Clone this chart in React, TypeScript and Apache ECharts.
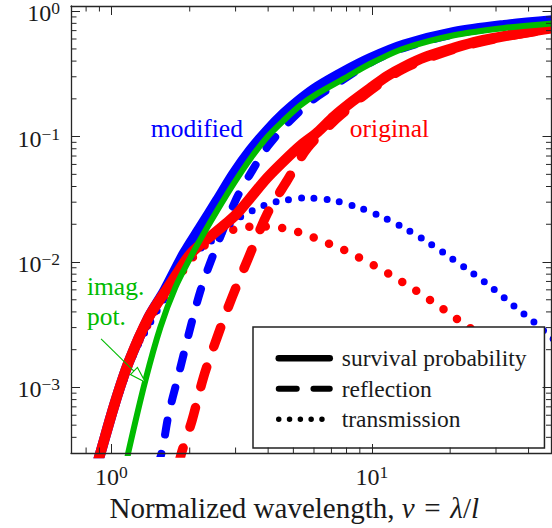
import React, { useEffect, useRef } from 'react';
import * as echarts from 'echarts';

type Pt = [number, number];

// ---- axis ranges ----
const X_MIN = 0.7;
const X_MAX = 49;
const Y_MIN = 3e-4;
const Y_MAX = 1.1;

const MINOR_X_TICKS = [0.8, 0.9, 2, 3, 4, 5, 6, 7, 8, 9, 20, 30, 40];
const MINOR_Y_TICKS = [
  4e-4, 5e-4, 6e-4, 7e-4, 8e-4, 9e-4,
  2e-3, 3e-3, 4e-3, 5e-3, 6e-3, 7e-3, 8e-3, 9e-3,
  2e-2, 3e-2, 4e-2, 5e-2, 6e-2, 7e-2, 8e-2, 9e-2,
  0.2, 0.3, 0.4, 0.5, 0.6, 0.7, 0.8, 0.9,
];

// ---- data: [nu, probability] ----
const ORIGINAL_SURVIVAL: Pt[] = [
  [0.88, 2.4e-4], [0.907, 2.97e-4], [1.03, 7.4e-4], [1.166, 1.59e-3], [1.392, 3.63e-3],
  [1.686, 6.71e-3], [1.897, 9.8e-3], [2.013, 1.16e-2], [2.2, 1.38e-2], [2.47, 1.68e-2],
  [2.75, 2.02e-2], [3.04, 2.43e-2], [3.42, 3.25e-2], [3.97, 4.7e-2], [4.6, 6.4e-2],
  [5.33, 8.5e-2], [6.18, 0.108], [7.16, 0.145], [8.4, 0.19], [9.91, 0.245], [11.5, 0.305],
  [13.27, 0.36], [16, 0.43], [20.7, 0.51], [26, 0.58], [32.3, 0.632], [40, 0.685], [50, 0.735],
];
const ORIGINAL_REFLECTION: Pt[] = [
  [1.8, 2.3e-4], [1.871, 3.13e-4], [2.04, 5.44e-4], [2.26, 1.21e-3], [2.55, 2.52e-3],
  [2.91, 5.25e-3], [3.33, 1.03e-2], [3.97, 2.43e-2], [4.74, 4.48e-2], [5.66, 8.1e-2],
  [7.16, 0.133], [8.07, 0.165], [9.91, 0.235], [13.3, 0.35], [20.7, 0.5], [32.3, 0.625], [50, 0.725],
];
const ORIGINAL_TRANSMISSION: Pt[] = [
  [0.88, 2.4e-4], [0.907, 2.95e-4], [1.166, 1.55e-3], [1.5, 4.3e-3], [1.8, 7.4e-3], [2.1, 1.15e-2],
  [2.37, 1.44e-2], [2.72, 1.7e-2], [3.15, 1.88e-2], [3.72, 1.92e-2], [4.3, 1.9e-2], [5.0, 1.78e-2],
  [5.79, 1.61e-2], [6.69, 1.43e-2], [7.74, 1.26e-2], [8.89, 1.09e-2], [10.2, 9.4e-3], [11.7, 8.0e-3],
  [13.3, 6.79e-3], [15.2, 5.69e-3], [17.3, 4.76e-3], [19.6, 3.96e-3], [22.3, 3.28e-3], [30, 2.15e-3],
  [38, 1.55e-3], [44, 1.3e-3],
];
const MODIFIED_SURVIVAL: Pt[] = [
  [0.88, 2.4e-4], [0.907, 2.97e-4], [1.03, 7.4e-4], [1.166, 1.59e-3], [1.392, 3.63e-3],
  [1.6, 5.9e-3], [1.897, 1.16e-2], [2.2, 1.9e-2], [2.55, 3.1e-2], [2.95, 5.07e-2], [3.42, 7.78e-2],
  [3.97, 0.112], [4.6, 0.153], [5.33, 0.199], [6.18, 0.249], [7.82, 0.33], [9.91, 0.423],
  [13.3, 0.54], [20.7, 0.68], [32.2, 0.773], [50, 0.845],
];
const MODIFIED_REFLECTION: Pt[] = [
  [1.5, 2.3e-4], [1.567, 3.13e-4], [1.661, 6.16e-4], [1.789, 1.135e-3], [1.897, 1.85e-3],
  [2.013, 3.02e-3], [2.2, 5.93e-3], [2.47, 1.16e-2], [3.0, 3.1e-2], [3.42, 5.07e-2],
  [3.97, 8.26e-2], [4.74, 0.127], [5.82, 0.19], [7.38, 0.265], [9.9, 0.39], [13.3, 0.51],
  [20.7, 0.655], [32.2, 0.755], [50, 0.825],
];
const MODIFIED_TRANSMISSION: Pt[] = [
  [0.88, 2.4e-4], [0.907, 2.95e-4], [1.2, 1.7e-3], [1.5, 4.1e-3], [1.8, 7.6e-3], [2.0, 1.07e-2],
  [2.3, 1.38e-2], [2.59, 1.6e-2], [2.91, 2.08e-2], [3.53, 2.61e-2], [3.97, 2.88e-2], [4.43, 3.06e-2],
  [5.57, 3.24e-2], [7.06, 3.1e-2], [8.81, 2.74e-2], [11.0, 2.28e-2], [13.6, 1.82e-2], [16.5, 1.43e-2],
  [20.0, 1.09e-2], [24.3, 8.22e-3], [29.3, 6.12e-3], [35.1, 4.48e-3], [42.1, 3.3e-3], [50, 2.4e-3],
];
const IMAG_POTENTIAL_SURVIVAL: Pt[] = [
  [1.14, 2.4e-4], [1.166, 3.13e-4], [1.351, 1.135e-3], [1.543, 3.02e-3], [1.763, 6.31e-3],
  [2.013, 1.09e-2], [2.26, 1.68e-2], [2.55, 2.58e-2], [2.95, 4.22e-2], [3.42, 6.67e-2],
  [3.97, 9.93e-2], [4.6, 0.135], [5.33, 0.178], [6.18, 0.22], [7.82, 0.29], [9.91, 0.383],
  [13.3, 0.504], [20.7, 0.643], [32.3, 0.735], [50, 0.8],
];

const LEGEND_NAMES = ['survival probability', 'reflection', 'transmission'];
const X_AXIS_TITLE = 'Normalized wavelength, {i|\u03bd}\u2004=\u2004{i|\u03bb}/{i|l}';

// ---- annotations (data-space anchors) ----
const TEXT_LABELS = [
  { text: 'modified', at: [2.13, 0.1165] as Pt, color: '#0000ff', align: 'center' },
  { text: 'original', at: [11.7, 0.1165] as Pt, color: '#ff0000', align: 'center' },
  { text: 'imag.', at: [0.806, 6.41e-3] as Pt, color: '#00bb00', align: 'left' },
  { text: 'pot.', at: [0.806, 3.69e-3] as Pt, color: '#00bb00', align: 'left' },
];
const ARROW_FROM: Pt = [0.913, 2.44e-3];
const ARROW_TO: Pt = [1.351, 1.1e-3];

// ---- styles ----
const SERIF = 'Liberation Serif';
const AXIS_COLOR = '#262626';
const TEXT_COLOR = '#1a1a1a';
const BLUE = '#0000ff';
const RED = '#ff0000';
const GREEN = '#00bb00';

function lineSeries(name: string, data: Pt[], color: string, width: number, type: any) {
  return {
    type: 'line',
    name,
    data,
    xAxisIndex: 0,
    yAxisIndex: 0,
    symbol: 'none',
    showSymbol: false,
    smooth: 0.3,
    clip: true,
    silent: true,
    lineStyle: { color, width, type, cap: 'round', join: 'round' },
    itemStyle: { color },
    z: 2,
  };
}

function tickLabel(v: number) {
  const l = Math.log10(v);
  const e = Math.round(l);
  if (Math.abs(l - e) > 1e-6) return '';
  const s = e < 0 ? '\u2212' + String(-e) : String(e);
  const sup = e === 0 ? 's0' : 's';
  return '{b|10}{' + sup + '|' + s + '}';
}

const RICH = {
  b: { fontSize: 24, fontFamily: SERIF, color: TEXT_COLOR, lineHeight: 28 },
  s: { fontSize: 17.5, fontFamily: SERIF, color: TEXT_COLOR, lineHeight: 14, verticalAlign: 'top' },
  s0: { fontSize: 17.5, fontFamily: SERIF, color: TEXT_COLOR, lineHeight: 19, verticalAlign: 'top' },
};

function baseAxis(extra: any) {
  return {
    type: 'log',
    logBase: 10,
    axisLine: { show: true, onZero: false, lineStyle: { color: AXIS_COLOR, width: 1.3 } },
    axisTick: { show: true, inside: true, length: 9, lineStyle: { color: AXIS_COLOR, width: 1 } },
    splitLine: { show: false },
    minorTick: { show: false },
    minorSplitLine: { show: false },
    z: 5,
    ...extra,
  };
}

const MINOR_LEN = 5.5;

function buildOption(): any {
  const tickStyle = { stroke: AXIS_COLOR, lineWidth: 1 };
  return {
    animation: false,
    backgroundColor: '#ffffff',
    textStyle: { fontFamily: SERIF },
    grid: { left: 71, top: 6, width: 480.5, height: 447, containLabel: false, outerBoundsMode: 'none' },
    xAxis: [
      baseAxis({
        position: 'bottom', min: X_MIN, max: X_MAX,
        axisLabel: { show: true, margin: 10, formatter: tickLabel, rich: RICH, fontFamily: SERIF, showMinLabel: false, showMaxLabel: false },
        name: X_AXIS_TITLE,
        nameLocation: 'middle',
        nameGap: 39,
        nameTextStyle: {
          fontSize: 29, fontFamily: SERIF, color: TEXT_COLOR, padding: [0, 34, 0, 0],
          rich: { i: { fontSize: 29, fontFamily: SERIF, fontStyle: 'italic', color: TEXT_COLOR } },
        },
      }),
      baseAxis({ position: 'top', min: X_MIN, max: X_MAX, axisLabel: { show: false } }),
    ],
    yAxis: [
      baseAxis({
        position: 'left', min: Y_MIN, max: Y_MAX,
        axisLabel: { show: true, margin: 11, formatter: tickLabel, rich: RICH, fontFamily: SERIF, padding: [4, 0, 0, 0], showMinLabel: false, showMaxLabel: false },
      }),
      baseAxis({ position: 'right', min: Y_MIN, max: Y_MAX, axisLabel: { show: false } }),
    ],
    legend: {
      data: LEGEND_NAMES,
      orient: 'vertical',
      left: 253,
      top: 327,
      itemWidth: 51,
      itemHeight: 24,
      itemGap: 6.5,
      padding: [19.3, 18, 16.7, 22.5],
      backgroundColor: '#ffffff',
      borderColor: '#222222',
      borderWidth: 1.5,
      borderRadius: 0,
      selectedMode: false,
      itemStyle: { opacity: 0 },
      lineStyle: { width: 'inherit' },
      textStyle: { fontFamily: SERIF, fontSize: 23.5, color: TEXT_COLOR, padding: [0, 0, 0, 7] },
      z: 4,
    },
    series: [
      lineSeries('orig-trans', ORIGINAL_TRANSMISSION, RED, 8.5, [0, 16.5]),
      lineSeries('mod-trans', MODIFIED_TRANSMISSION, BLUE, 7, [0, 12.8]),
      lineSeries('orig-refl', ORIGINAL_REFLECTION, RED, 9.5, [20.5, 21.5]),
      lineSeries('mod-refl', MODIFIED_REFLECTION, BLUE, 8, [14, 20]),
      lineSeries('mod-surv', MODIFIED_SURVIVAL, BLUE, 10.5, 'solid'),
      lineSeries('orig-surv', ORIGINAL_SURVIVAL, RED, 10.5, 'solid'),
      lineSeries('imag-surv', IMAG_POTENTIAL_SURVIVAL, GREEN, 6, 'solid'),
      lineSeries(LEGEND_NAMES[0], [], '#000000', 6.5, 'solid'),
      lineSeries(LEGEND_NAMES[1], [], '#000000', 6, [18, 16.7]),
      lineSeries(LEGEND_NAMES[2], [], '#000000', 5.5, [0, 10.8]),
      {
        type: 'custom',
        coordinateSystem: 'cartesian2d',
        xAxisIndex: 0,
        yAxisIndex: 0,
        silent: true,
        clip: false,
        z: 6,
        data: MINOR_X_TICKS.map((v) => [v, Y_MIN]),
        renderItem: (_p: any, api: any) => {
          const v = api.value(0);
          const b = api.coord([v, Y_MIN]);
          const t = api.coord([v, Y_MAX]);
          return {
            type: 'group',
            children: [
              { type: 'line', shape: { x1: b[0], y1: b[1], x2: b[0], y2: b[1] - MINOR_LEN }, style: tickStyle },
              { type: 'line', shape: { x1: t[0], y1: t[1], x2: t[0], y2: t[1] + MINOR_LEN }, style: tickStyle },
            ],
          };
        },
      },
      {
        type: 'custom',
        coordinateSystem: 'cartesian2d',
        xAxisIndex: 0,
        yAxisIndex: 0,
        silent: true,
        clip: false,
        z: 6,
        data: MINOR_Y_TICKS.map((v) => [X_MIN, v]),
        renderItem: (_p: any, api: any) => {
          const v = api.value(1);
          const l = api.coord([X_MIN, v]);
          const r = api.coord([X_MAX, v]);
          return {
            type: 'group',
            children: [
              { type: 'line', shape: { x1: l[0], y1: l[1], x2: l[0] + MINOR_LEN, y2: l[1] }, style: tickStyle },
              { type: 'line', shape: { x1: r[0], y1: r[1], x2: r[0] - MINOR_LEN, y2: r[1] }, style: tickStyle },
            ],
          };
        },
      },
    ],
  };
}

function buildGraphics(px: (p: Pt) => number[]): any[] {
  const els: any[] = [];
  for (const lab of TEXT_LABELS) {
    const [x, y] = px(lab.at);
    els.push({
      type: 'text', x, y, z: 10, silent: true,
      style: { text: lab.text, fill: lab.color, fontSize: 25.5, fontFamily: SERIF, align: lab.align, verticalAlign: 'middle' },
    });
  }
  const [x1, y1] = px(ARROW_FROM);
  const [x2, y2] = px(ARROW_TO);
  const dx = x2 - x1;
  const dy = y2 - y1;
  const len = Math.hypot(dx, dy);
  const ux = dx / len;
  const uy = dy / len;
  const HEAD_LEN = 16;
  const HEAD_HALF = 5;
  const bx = x2 - ux * HEAD_LEN;
  const by = y2 - uy * HEAD_LEN;
  els.push({ type: 'line', z: 10, silent: true, shape: { x1, y1, x2: bx, y2: by }, style: { stroke: GREEN, lineWidth: 1.1 } });
  els.push({
    type: 'polygon', z: 10, silent: true,
    shape: { points: [[x2, y2], [bx - uy * HEAD_HALF, by + ux * HEAD_HALF], [bx + uy * HEAD_HALF, by - ux * HEAD_HALF]] },
    style: { fill: '#ffffff', stroke: GREEN, lineWidth: 1.1 },
  });
  return els;
}

export default function App() {
  const ref = useRef<HTMLDivElement>(null);
  useEffect(() => {
    document.body.style.margin = '0';
    const el = ref.current;
    if (!el) return;
    const chart = echarts.init(el, null, { renderer: 'svg' });
    chart.setOption(buildOption());
    const px = (p: Pt) => chart.convertToPixel({ gridIndex: 0 }, p) as number[];
    chart.setOption({ graphic: buildGraphics(px) });
    return () => chart.dispose();
  }, []);
  return <div ref={ref} style={{ width: 552, height: 528 }} />;
}
